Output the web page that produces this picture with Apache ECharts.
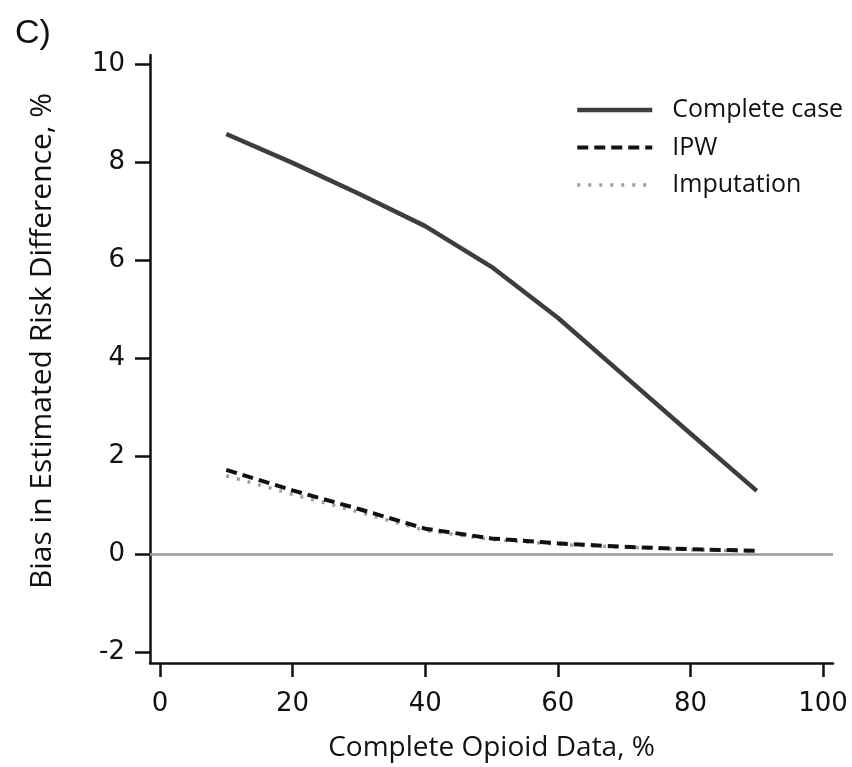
<!DOCTYPE html>
<html>
<head>
<meta charset="utf-8">
<script src="https://cdn.jsdelivr.net/npm/echarts@6/dist/echarts.min.js"></script>
<style>
  html, body { margin: 0; padding: 0; background: #fff; }
  #chart { width: 852px; height: 767px; }
</style>
</head>
<body>
<div id="chart"></div>
<script>
const completeData = [10, 20, 30, 40, 50, 60, 70, 80, 90];
const completeCase = [8.57, 7.98, 7.35, 6.69, 5.86, 4.82, 3.64, 2.46, 1.29];
const ipw = [1.72, 1.3, 0.92, 0.52, 0.32, 0.22, 0.15, 0.1, 0.07];
const imputation = [1.6, 1.22, 0.86, 0.48, 0.3, 0.2, 0.14, 0.09, 0.06];
const xTicks = [0, 20, 40, 60, 80, 100];
const yTicks = [-2, 0, 2, 4, 6, 8, 10];

const pairs = ys => completeData.map((x, i) => [x, ys[i]]);
const tickFont = 'DejaVu Sans';
const textFont = 'Open Sans';

const chart = echarts.init(document.getElementById('chart'));
chart.setOption({
  animation: false,
  title: {
    text: 'C)', left: 10, top: 12,
    textStyle: { fontFamily: 'Liberation Sans', fontSize: 34, fontWeight: 'normal', color: '#111' },
  },
  legend: {
    orient: 'vertical', left: 570, top: 91,
    itemWidth: 75, itemHeight: 14, itemGap: 9.5,
    data: ['Complete case', 'IPW', 'Imputation'],
    itemStyle: { opacity: 0 },
    lineStyle: { width: 'inherit' },
    textStyle: { fontFamily: textFont, fontSize: 25, color: '#111', lineHeight: 28, padding: [0, 0, 0, 15] },
  },
  grid: { left: 150, right: 19, top: 55, bottom: 104 },
  xAxis: {
    type: 'value', min: -1.5, max: 101.5,
    name: 'Complete Opioid Data, %', nameLocation: 'middle', nameGap: 71,
    nameTextStyle: { fontFamily: textFont, fontSize: 28, color: '#111' },
    axisLine: { onZero: false, lineStyle: { color: '#111', width: 2.5 } },
    axisTick: { show: true, length: 14, lineStyle: { width: 2.5, color: '#111' }, customValues: xTicks },
    axisLabel: { fontFamily: tickFont, fontSize: 26, color: '#111', margin: 28, customValues: xTicks },
    splitLine: { show: false },
  },
  yAxis: {
    type: 'value', min: -2.22, max: 10.18,
    name: 'Bias in Estimated Risk Difference, %', nameLocation: 'middle', nameGap: 93,
    nameTextStyle: { fontFamily: textFont, fontSize: 30, color: '#111', padding: [0, 0, 0, 36] },
    axisLine: { show: true, onZero: false, lineStyle: { color: '#111', width: 2.5 } },
    axisTick: { show: true, length: 15, lineStyle: { width: 2.5, color: '#111' }, customValues: yTicks },
    axisLabel: { fontFamily: tickFont, fontSize: 26, color: '#111', margin: 25, customValues: yTicks },
    splitLine: { show: false },
  },
  series: [
    {
      name: 'Complete case', type: 'line', symbol: 'none', data: pairs(completeCase),
      itemStyle: { color: '#3d3d3d' }, lineStyle: { color: '#3d3d3d', width: 4.5 },
      markLine: {
        silent: true, symbol: 'none', label: { show: false },
        lineStyle: { color: '#999', width: 2.5, type: 'solid' },
        data: [{ yAxis: 0 }],
      },
    },
    {
      name: 'Imputation', type: 'line', symbol: 'none', data: pairs(imputation),
      itemStyle: { color: '#a0a0a0' }, lineStyle: { color: '#a0a0a0', width: 3.5, type: [3, 8] },
    },
    {
      name: 'IPW', type: 'line', symbol: 'none', data: pairs(ipw),
      itemStyle: { color: '#111' }, lineStyle: { color: '#111', width: 4, type: [11, 6] },
    },
  ],
});
window.addEventListener('resize', () => chart.resize());
</script>
</body>
</html>
